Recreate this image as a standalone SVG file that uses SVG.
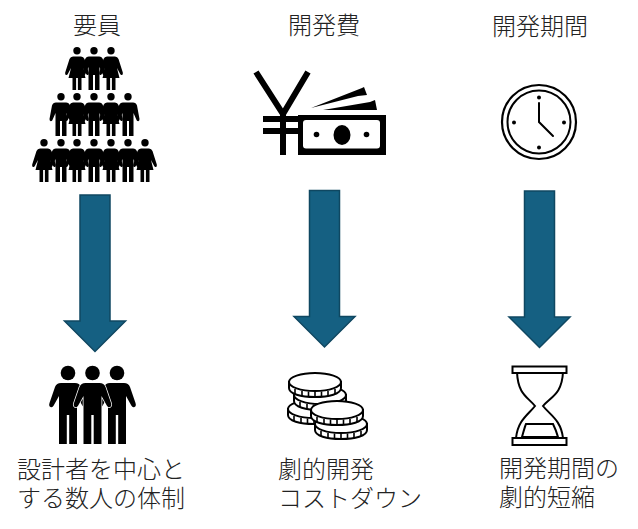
<svg xmlns="http://www.w3.org/2000/svg" width="638" height="529" viewBox="0 0 638 529">
<style>
text{font-family:"Noto Sans CJK JP","Noto Sans",sans-serif;font-size:24px;fill:#222;font-weight:300}
.arrow{fill:#156082;stroke:#0f4761;stroke-width:1.5}
.k{fill:#000}
.w{fill:#fff;stroke:#000;stroke-width:2}
.l{fill:none;stroke:#000;stroke-width:2}
.t{fill:none;stroke:#000;stroke-width:1.6}
.y{fill:none;stroke:#000;stroke-width:6}
</style>
<defs>
<g id="man"><circle cx="0" cy="3.8" r="3.7" class="k"/><path class="k" d="M-5 9.500H5Q8 9.500 9 12.500L11.500 26Q11.600 28 10.200 28.200Q8.800 28.300 8.300 26.500L5.500 20V43H1V28H-1V43H-5.500V20L-8.300 26.500Q-8.800 28.300 -10.200 28.200Q-11.600 28 -11.500 26L-9 12.500Q-8 9.500 -5 9.500Z"/></g>
<g id="woman"><circle cx="0" cy="3.800" r="3.700" class="k"/><path class="k" d="M-4 9.500H4Q6.500 9.500 7.500 12L11.800 25.500Q12.200 27.500 11 28Q9.800 28.400 9.200 27L6 21L8.500 31H4.500V43H0.900V31H-0.900V43H-4.500V31H-8.500L-6 21L-9.200 27Q-9.800 28.400 -11 28Q-12.200 27.500 -11.800 25.500L-7.500 12Q-6.500 9.500 -4 9.500Z"/></g>
<g id="big"><circle cx="0" cy="7" r="7.300" class="k"/><path class="k" d="M-7 17H7Q11.500 17 13 21L18.500 37Q19.500 40 17.500 41Q15.500 41.800 14.300 39.500L9 30V78H1.200V49H-1.200V78H-9V30L-14.300 39.500Q-15.500 41.800 -17.500 41Q-19.500 40 -18.500 37L-13 21Q-11.500 17 -7 17Z"/></g>
<g id="coin"><path class="w" d="M-26 0V6C-26 12 -14 15 0 15S26 12 26 6V0Z"/><path class="t" d="M-20 7v5M-13 9v5.500M-6.500 9.500v5.500M0 10v5M6.500 9.500v5.500M13 9v5.500M20 7v5"/><ellipse cx="0" cy="0" rx="26" ry="9" class="w"/></g>
<path id="ar" d="M-15 0H15V126H30.500L0 156.500L-30.500 126H-15Z"/>
</defs>
<g id="connectors">
<use href="#ar" x="95" y="195" class="arrow"/>
<use href="#ar" x="324.500" y="190.500" class="arrow"/>
<use href="#ar" x="539.500" y="191" class="arrow"/>
</g>
<g id="node-people-before">
<text x="97" y="34" text-anchor="middle">要員</text>
<use href="#woman" x="77" y="47"/><use href="#man" x="94" y="47"/><use href="#woman" x="111" y="47"/>
<use href="#man" x="61" y="93"/><use href="#woman" x="77" y="93"/><use href="#man" x="94" y="93"/><use href="#woman" x="111" y="93"/><use href="#man" x="128" y="93"/>
<use href="#woman" x="44" y="139"/><use href="#man" x="61" y="139"/><use href="#woman" x="77" y="139"/><use href="#man" x="94" y="139"/><use href="#woman" x="111" y="139"/><use href="#man" x="128" y="139"/><use href="#woman" x="145" y="139"/>
</g>
<g id="node-cost-before">
<text x="324" y="34" text-anchor="middle">開発費</text>
<path class="y" d="M256 72L283 114L308 72M283 114V155M263 119H298M263 131H298"/>
<path class="k" d="M298 115H386V155H298Z"/>
<rect x="303" y="120" width="77" height="28.500" rx="3" fill="#fff"/>
<ellipse cx="342" cy="135" rx="8.500" ry="10" class="k"/>
<circle cx="316.500" cy="134.500" r="2.800" class="k"/><circle cx="366.500" cy="134.500" r="2.800" class="k"/>
<path class="k" d="M311 108L362 88L364 87L367 95L358 96Z"/>
<path class="k" d="M323 110L370 102L375 100L377 110Z"/>
</g>
<g id="node-time-before">
<text x="540" y="35" text-anchor="middle">開発期間</text>
<circle cx="539" cy="122" r="37" fill="#fff" stroke="#000" stroke-width="2.200"/>
<circle cx="539" cy="122" r="31.500" fill="#fff" stroke="#000" stroke-width="2"/>
<path fill="none" stroke="#000" stroke-width="2" stroke-linecap="round" d="M539 103V122L553 136"/>
<circle cx="539" cy="97.500" r="2" class="k"/><circle cx="539" cy="147.500" r="2" class="k"/><circle cx="514" cy="122.500" r="2" class="k"/><circle cx="564" cy="122.500" r="2" class="k"/>
</g>
<g id="node-people-after">
<use href="#big" x="68" y="366"/><use href="#big" x="117" y="366"/><use href="#big" x="92.500" y="366" stroke="#fff" stroke-width="1.500" paint-order="stroke"/>
<text x="17" y="478">設計者を中心と</text>
<text x="17" y="507">する数人の体制</text>
</g>
<g id="node-cost-after">
<use href="#coin" x="314" y="409"/>
<use href="#coin" x="320" y="395"/>
<use href="#coin" x="315" y="382"/>
<use href="#coin" x="341" y="424"/>
<use href="#coin" x="337" y="410"/>
<text x="278" y="478">劇的開発</text>
<text x="278" y="507">コストダウン</text>
</g>
<g id="node-time-after">
<path class="w" d="M517 372C518 395 528 397 535 406C528 415 518 420 516 438H563C561 420 550 415 543 406C550 397 562 395 563 372Z"/>
<path class="l" d="M522 437C524 430 525 426 526 424H553C554 426 556 430 558 437Z"/>
<rect x="512.500" y="366.500" width="54" height="6.500" class="w"/>
<rect x="512.500" y="438" width="54" height="7" class="w"/>
<text x="499" y="477">開発期間の</text>
<text x="499" y="506">劇的短縮</text>
</g>
</svg>
